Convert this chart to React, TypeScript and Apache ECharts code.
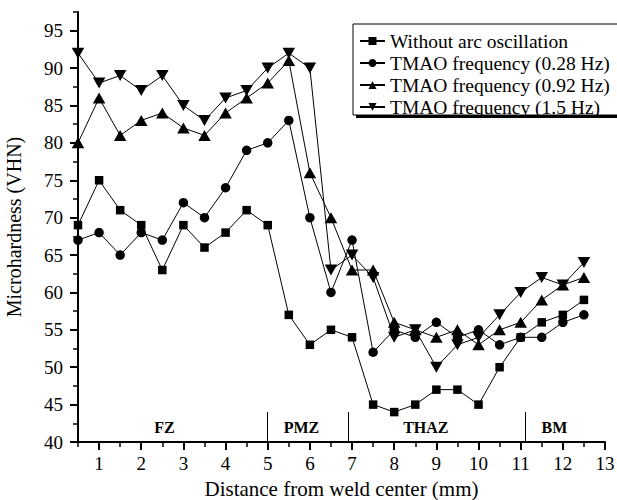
import React, { useEffect, useRef } from "react";
import * as echarts from "echarts";

// Distance from weld centre (mm) at each hardness indent
const distances = [0.5, 1, 1.5, 2, 2.5, 3, 3.5, 4, 4.5, 5, 5.5, 6, 6.5, 7, 7.5, 8, 8.5, 9, 9.5, 10, 10.5, 11, 11.5, 12, 12.5];

// Microhardness (VHN) for each welding condition
const withoutOsc = [69, 75, 71, 69, 63, 69, 66, 68, 71, 69, 57, 53, 55, 54, 45, 44, 45, 47, 47, 45, 50, 54, 56, 57, 59];
const tmao028 = [67, 68, 65, 68, 67, 72, 70, 74, 79, 80, 83, 70, 60, 67, 52, 55, 54, 56, 54, 55, 53, 54, 54, 56, 57];
const tmao092 = [80, 86, 81, 83, 84, 82, 81, 84, 86, 88, 91, 76, 70, 63, 63, 56, 55, 54, 55, 53, 55, 56, 59, 61, 62];
const tmao15 = [92, 88, 89, 87, 89, 85, 83, 86, 87, 90, 92, 90, 63, 65, 62, 54, 55, 50, 53, 54, 57, 60, 62, 61, 64];

const seriesNames = [
  "Without arc oscillation",
  "TMAO frequency (0.28 Hz)",
  "TMAO frequency (0.92 Hz)",
  "TMAO frequency (1.5 Hz)",
];

// Axis ticks
const xMajorTicks = [1, 2, 3, 4, 5, 6, 7, 8, 9, 10, 11, 12, 13];
const xMinorTicks = [0.5, 1.5, 2.5, 3.5, 4.5, 5.5, 6.5, 7.5, 8.5, 9.5, 10.5, 11.5, 12.5];
const yMajorTicks = [40, 45, 50, 55, 60, 65, 70, 75, 80, 85, 90, 95];
const yMinorTicks = [42.5, 47.5, 52.5, 57.5, 62.5, 67.5, 72.5, 77.5, 82.5, 87.5, 92.5, 97.5];

// Weld zones: boundaries along the distance axis and their labels
const zoneBounds = [5, 6.9, 11.1];
const zoneNames = ["FZ", "PMZ", "THAZ", "BM"];
const zoneCenters = [2.55, 5.8, 8.75, 11.8];

const SERIF = "'Liberation Serif', 'Times New Roman', Times, serif";

export default function App() {
  const ref = useRef<HTMLDivElement>(null);

  useEffect(() => {
    document.body.style.margin = "0";
    if (!ref.current) return;
    const chart = echarts.init(ref.current, null, { renderer: "svg" });

    const pts = (vals: number[]) => distances.map((d, i) => [d, vals[i]]);

    const baseSeries = {
      type: "line",
      xAxisIndex: 0,
      yAxisIndex: 0,
      showAllSymbol: true,
      lineStyle: { color: "#000", width: 1 },
      itemStyle: { color: "#000" },
      emphasis: { disabled: true },
    };

    const option: any = {
      animation: false,
      backgroundColor: "#fff",
      grid: {
        left: 78,
        right: 12,
        top: 12,
        bottom: 58,
        containLabel: false,
        outerBoundsMode: "none",
      },
      legend: {
        orient: "vertical",
        left: 359,
        top: 31,
        padding: 0,
        itemWidth: 25,
        itemHeight: 10,
        itemGap: 2,
        data: seriesNames,
        textStyle: { fontFamily: SERIF, fontSize: 19.5, color: "#000" },
        z: 10,
      },
      graphic: [
        // legend frame with its drop shadow
        { type: "rect", z: 5, shape: { x: 356, y: 27, width: 280, height: 91 }, style: { fill: "#000" } },
        { type: "rect", z: 6, shape: { x: 353, y: 24, width: 280, height: 91 }, style: { fill: "#fff", stroke: "#000", lineWidth: 1 } },
      ],
      xAxis: [
        {
          type: "value",
          min: 0.5,
          max: 13,
          name: "Distance from weld center (mm)",
          nameLocation: "middle",
          nameGap: 36,
          nameTextStyle: { fontFamily: SERIF, fontSize: 21, color: "#000" },
          axisLine: { show: true, onZero: false, lineStyle: { color: "#000", width: 2 } },
          axisTick: { show: true, customValues: xMajorTicks, length: 8, lineStyle: { color: "#000", width: 2 } },
          axisLabel: { customValues: xMajorTicks, margin: 12, fontFamily: SERIF, fontSize: 19, color: "#000" },
          splitLine: { show: false },
        },
        {
          type: "value",
          min: 0.5,
          max: 13,
          position: "bottom",
          gridIndex: 0,
          axisLine: { show: false },
          axisTick: { show: true, customValues: xMinorTicks, length: 5, lineStyle: { color: "#000", width: 1.5 } },
          axisLabel: { show: false },
          splitLine: { show: false },
        },
      ],
      yAxis: [
        {
          type: "value",
          min: 40,
          max: 97.5,
          name: "Microhardness (VHN)",
          nameLocation: "middle",
          nameGap: 54,
          nameTextStyle: { fontFamily: SERIF, fontSize: 20, color: "#000" },
          axisLine: { show: true, onZero: false, lineStyle: { color: "#000", width: 2 } },
          axisTick: { show: true, customValues: yMajorTicks, length: 8, lineStyle: { color: "#000", width: 2 } },
          axisLabel: { customValues: yMajorTicks, margin: 15, fontFamily: SERIF, fontSize: 19, color: "#000" },
          splitLine: { show: false },
        },
        {
          type: "value",
          min: 40,
          max: 97.5,
          position: "left",
          gridIndex: 0,
          axisLine: { show: false },
          axisTick: { show: true, customValues: yMinorTicks, length: 5, lineStyle: { color: "#000", width: 1.5 } },
          axisLabel: { show: false },
          splitLine: { show: false },
        },
      ],
      series: [
        {
          ...baseSeries,
          name: seriesNames[0],
          symbol: "rect",
          symbolSize: 8.5,
          data: pts(withoutOsc),
          markLine: {
            silent: true,
            symbol: ["none", "none"],
            label: { show: false },
            lineStyle: { color: "#000", width: 1, type: "solid" },
            data: zoneBounds.map((b) => [{ coord: [b, 40] }, { coord: [b, 44] }]),
          },
          markPoint: {
            silent: true,
            symbol: "circle",
            symbolSize: 1,
            itemStyle: { color: "rgba(0,0,0,0)" },
            label: {
              show: true,
              position: "inside",
              formatter: "{b}",
              fontFamily: SERIF,
              fontWeight: "bold",
              fontSize: 16,
              color: "#000",
            },
            data: zoneNames.map((n, i) => ({ name: n, coord: [zoneCenters[i], 41.9] })),
          },
        },
        { ...baseSeries, name: seriesNames[1], symbol: "circle", symbolSize: 9.5, data: pts(tmao028) },
        { ...baseSeries, name: seriesNames[2], symbol: "triangle", symbolSize: [12.5, 11], data: pts(tmao092) },
        {
          ...baseSeries,
          name: seriesNames[3],
          symbol: "triangle",
          symbolRotate: 180,
          symbolSize: [12.5, 11],
          data: pts(tmao15),
        },
      ],
    };

    chart.setOption(option);
    return () => chart.dispose();
  }, []);

  return <div ref={ref} style={{ width: 617, height: 500 }} />;
}
